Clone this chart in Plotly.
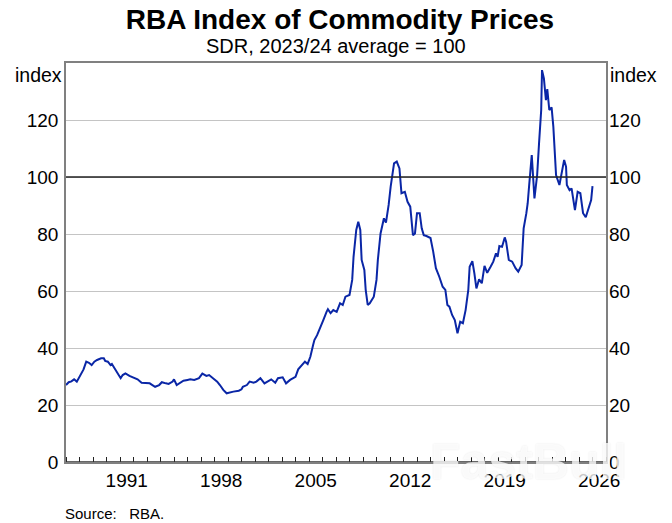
import plotly.graph_objects as go

# Decimal-year dates and index values
years = [1987.0, 1987.2, 1987.4, 1987.6, 1987.8, 1988.1, 1988.3, 1988.5, 1988.7, 1988.9,
         1989.1, 1989.3, 1989.6, 1989.8, 1989.9, 1990.1, 1990.3, 1990.4, 1990.6, 1990.8,
         1991.05, 1991.2, 1991.4, 1991.7, 1992.0, 1992.3, 1992.6, 1992.9, 1993.2, 1993.4,
         1993.6, 1993.9, 1994.1, 1994.4, 1994.6, 1994.9, 1995.0, 1995.2, 1995.5, 1995.7,
         1996.0, 1996.2, 1996.5, 1996.85, 1997.1, 1997.4, 1997.6, 1997.9, 1998.2, 1998.4,
         1998.65, 1998.9, 1999.15, 1999.4, 1999.8, 2000.0, 2000.1, 2000.4, 2000.6, 2000.9,
         2001.1, 2001.4, 2001.7, 2002.0, 2002.2, 2002.5, 2002.7, 2003.05, 2003.3, 2003.6,
         2004.0, 2004.2, 2004.45, 2004.7, 2004.9, 2005.1, 2005.3, 2005.4, 2005.6, 2005.8,
         2006.06, 2006.3, 2006.4, 2006.6, 2006.8, 2007.05, 2007.3, 2007.5, 2007.7, 2008.0,
         2008.2, 2008.3, 2008.5, 2008.65, 2008.8, 2008.9, 2009.1, 2009.2, 2009.35, 2009.5,
         2009.8, 2010.0, 2010.1, 2010.3, 2010.4, 2010.55, 2010.7, 2010.9, 2011.05, 2011.2,
         2011.3, 2011.5, 2011.7, 2011.85, 2012.1, 2012.3, 2012.5, 2012.7, 2012.85, 2013.0,
         2013.2, 2013.35, 2013.5, 2013.7, 2014.0, 2014.2, 2014.4, 2014.65, 2014.9, 2015.1,
         2015.25, 2015.4, 2015.6, 2015.8, 2016.0, 2016.2, 2016.4, 2016.6, 2016.8, 2016.9,
         2017.1, 2017.25, 2017.4, 2017.6, 2017.8, 2018.0, 2018.2, 2018.45, 2018.65, 2018.85,
         2018.97, 2019.1, 2019.3, 2019.5, 2019.6, 2019.8, 2020.05, 2020.3, 2020.5, 2020.75,
         2020.9, 2021.1, 2021.2, 2021.3, 2021.5, 2021.7, 2021.9, 2022.04, 2022.2, 2022.26,
         2022.4, 2022.55, 2022.65, 2022.8, 2022.97, 2023.1, 2023.2, 2023.3, 2023.55, 2023.7,
         2023.9, 2024.04, 2024.1, 2024.3, 2024.45, 2024.7, 2024.9, 2025.1, 2025.3, 2025.5,
         2025.8, 2025.9, 2026.0]
index_values = [27.0, 28.0, 28.3, 29.0, 28.2, 30.5, 32.5, 35.2, 34.8, 34.0,
                35.2, 35.8, 36.4, 36.4, 35.5, 35.2, 34.0, 34.4, 32.9, 31.7,
                29.4, 30.5, 31.1, 30.2, 29.7, 29.0, 27.8, 27.8, 27.6, 27.0,
                26.4, 27.0, 28.0, 27.6, 27.4, 28.2, 29.0, 27.0, 27.8, 28.5,
                28.8, 29.0, 28.8, 29.4, 31.0, 30.2, 30.5, 29.4, 28.2, 27.0,
                25.3, 24.1, 24.5, 24.7, 25.0, 25.5, 26.4, 27.0, 28.2, 27.8,
                28.2, 29.4, 27.6, 28.5, 29.0, 27.8, 29.4, 29.7, 27.6, 28.8,
                29.9, 32.5, 34.0, 35.2, 34.4, 36.9, 41.0, 42.8, 44.5, 46.6,
                49.8, 52.7, 53.6, 52.2, 53.3, 52.7, 55.7, 55.1, 58.0, 58.6,
                63.9, 72.0, 81.4, 84.3, 81.4, 70.9, 67.4, 60.4, 55.1, 55.7,
                58.0, 63.9, 70.9, 80.2, 82.6, 85.5, 84.0, 90.2, 96.6, 102.5,
                104.8, 105.4, 103.0, 94.3, 94.8, 91.3, 89.6, 79.6, 80.2, 87.3,
                87.3, 82.0, 79.6, 79.3, 78.6, 73.8, 68.0, 65.0, 61.5, 60.4,
                55.1, 54.5, 51.6, 49.8, 45.2, 49.2, 48.7, 53.3, 60.4, 68.5,
                70.5, 66.2, 60.9, 64.1, 62.7, 68.8, 66.4, 68.5, 70.3, 73.2,
                72.0, 75.8, 75.5, 78.8, 77.3, 70.9, 70.3, 68.0, 66.8, 69.1,
                82.0, 87.3, 90.8, 96.6, 107.7, 92.5, 100.7, 111.8, 123.5, 137.5,
                134.6, 127.0, 130.8, 123.5, 124.4, 117.6, 108.3, 100.7, 97.2, 100.7,
                106.0, 103.6, 97.2, 95.4, 96.0, 88.4, 94.8, 94.3, 87.3, 85.9,
                90.8, 91.9, 96.8]

x_label_years = [1991, 1998, 2005, 2012, 2019, 2026]
y_ticks = [0, 20, 40, 60, 80, 100, 120]

FONT = "Liberation Sans, Arial, sans-serif"

# The page has an 8px body margin, so the figure is drawn 8px in from the
# window's top-left; all pixel positions below are in figure coordinates.
W, H = 664, 515
L, R, T, B = 58, 598, 55, 454
def px(x):
    return (x - L) / (R - L)
def py(y):
    return (B - y) / (B - T)

fig = go.Figure()
fig.add_trace(go.Scatter(x=years, y=index_values, mode="lines",
                         line=dict(color="#0a26a6", width=2),
                         hoverinfo="skip", showlegend=False))
fig.add_trace(go.Scatter(x=[None], y=[None], yaxis="y2", showlegend=False,
                         hoverinfo="skip"))

fig.update_layout(
    width=W, height=H,
    margin=dict(l=L, r=W - R, t=T, b=H - B),
    paper_bgcolor="white", plot_bgcolor="white",
    font=dict(family=FONT, size=19, color="black"),
    title=dict(text="<b>RBA Index of Commodity Prices</b>", x=0.5, xanchor="center",
               y=1 - 11 / H, yanchor="middle", yref="container",
               font=dict(size=28, family=FONT, color="black")),
    xaxis=dict(range=[1987, 2027], tickmode="array",
               tickvals=[y + 0.5 for y in x_label_years],
               ticktext=[str(y) for y in x_label_years],
               ticks="", showgrid=False, zeroline=False,
               showline=True, linecolor="#808080", linewidth=1.5, mirror=True,
               tickfont=dict(size=19),
               minor=dict(tickmode="linear", tick0=1987, dtick=1, ticks="inside",
                          ticklen=5, tickcolor="#222", tickwidth=1, showgrid=False)),
    yaxis=dict(range=[0, 140], tickmode="array", tickvals=y_ticks,
               ticks="", showgrid=True, gridcolor="#c4c4c4", gridwidth=1,
               zeroline=False, showline=True, linecolor="#808080", linewidth=1.5,
               mirror=True, tickfont=dict(size=19), ticklabelstandoff=2),
    yaxis2=dict(range=[0, 140], tickmode="array", tickvals=y_ticks,
                overlaying="y", side="right", ticks="", showgrid=False,
                zeroline=False, showline=False, tickfont=dict(size=19),
                ticklabelstandoff=2),
    shapes=[
        dict(type="line", xref="paper", yref="y", x0=0, x1=1, y0=100, y1=100,
             line=dict(color="#222", width=1.3)),
        dict(type="line", xref="paper", yref="y", x0=0, x1=1, y0=0, y1=0,
             line=dict(color="#333", width=1.5)),
    ],
    annotations=[
        dict(text="SDR, 2023/24 average = 100", xref="paper", yref="paper",
             x=px(328), y=py(38), xanchor="center", yanchor="middle",
             showarrow=False, font=dict(size=20)),
        dict(text="index", xref="paper", yref="paper", x=0, y=1, xanchor="right",
             yanchor="top", xshift=-2, yshift=1, showarrow=False, font=dict(size=19.5)),
        dict(text="index", xref="paper", yref="paper", x=1, y=1, xanchor="left",
             yanchor="top", xshift=2, yshift=1, showarrow=False, font=dict(size=19.5)),
        dict(text="Source:\u00a0\u00a0\u00a0RBA.", xref="paper", yref="paper",
             x=px(55), y=py(505), xanchor="left", yanchor="middle",
             showarrow=False, font=dict(size=15)),
        dict(text="<b>FastBull</b>", xref="paper", yref="paper",
             x=px(520), y=py(454), xanchor="center", yanchor="middle",
             showarrow=False,
             font=dict(size=50, color="rgba(255,255,255,0.78)",
                       shadow="0px 0px 2px rgba(0,0,0,0.12)")),
    ],
)

fig.write_html("out.html")
